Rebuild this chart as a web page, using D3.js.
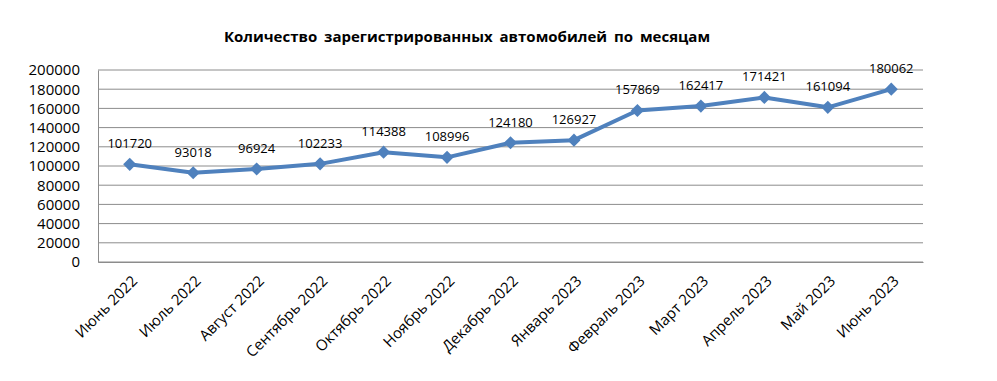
<!DOCTYPE html>
<html>
<head>
<meta charset="utf-8">
<script src="https://cdn.jsdelivr.net/npm/d3@7"></script>
<style>
  body { margin: 0; background: #fff; }
  text { font-family: "Open Sans", "Noto Sans", sans-serif; fill: #000; }
</style>
</head>
<body>
<svg width="997" height="381"></svg>
<script>
// data
var months = ["Июнь 2022", "Июль 2022", "Август 2022", "Сентябрь 2022", "Октябрь 2022",
    "Ноябрь 2022", "Декабрь 2022", "Январь 2023", "Февраль 2023", "Март 2023",
    "Апрель 2023", "Май 2023", "Июнь 2023"];
var cars = [101720, 93018, 96924, 102233, 114388, 108996, 124180, 126927,
    157869, 162417, 171421, 161094, 180062];
var yTicks = [0, 20000, 40000, 60000, 80000, 100000, 120000, 140000, 160000, 180000, 200000];

var svg = d3.select("svg"),
    margin = {top: 70, right: 74, bottom: 119, left: 98},
    width = +svg.attr("width") - margin.left - margin.right,
    height = +svg.attr("height") - margin.top - margin.bottom;

// title
svg.append("text")
    .attr("x", 467)
    .attr("y", 42)
    .attr("text-anchor", "middle")
    .style("font-weight", "bold")
    .style("font-size", "15px")
    .style("word-spacing", "3px")
    .text("Количество зарегистрированных автомобилей по месяцам");

var g = svg.append("g")
    .attr("transform", "translate(" + margin.left + "," + margin.top + ")");

// scales
var x = d3.scalePoint()
    .domain(months)
    .range([0, width])
    .padding(0.5);

var y = d3.scaleLinear()
    .domain([0, 200000])
    .range([height, 0]);

// grid lines
g.selectAll(".grid")
    .data(yTicks)
    .enter().append("line")
    .attr("x1", 0)
    .attr("x2", width)
    .attr("y1", function (d) { return y(d); })
    .attr("y2", function (d) { return y(d); })
    .attr("stroke", "#8c8c8c")
    .attr("stroke-width", 1);

// y axis
var yAxis = g.append("g")
    .call(d3.axisLeft(y).tickValues(yTicks).tickFormat(d3.format("d"))
        .tickSize(0).tickPadding(18));
yAxis.select(".domain").attr("stroke", "#8c8c8c");
yAxis.selectAll("text")
    .style("font-size", "15px")
    .style("font-family", "'Open Sans', sans-serif");

// x axis
var xAxis = g.append("g")
    .attr("transform", "translate(0," + height + ")")
    .call(d3.axisBottom(x).tickSize(0).tickPadding(0));
xAxis.select(".domain").attr("stroke", "#8c8c8c");
xAxis.selectAll("text")
    .style("font-size", "15px")
    .style("font-family", "'Open Sans', sans-serif")
    .attr("text-anchor", "end")
    .attr("dy", 0)
    .attr("transform", "translate(8,20) rotate(-45)");

// line
var line = d3.line()
    .x(function (d, i) { return x(months[i]); })
    .y(function (d) { return y(d); });

g.append("path")
    .datum(cars)
    .attr("fill", "none")
    .attr("stroke", "#4f81bd")
    .attr("stroke-width", 4)
    .attr("stroke-linejoin", "round")
    .attr("d", line);

// diamond markers
g.selectAll(".marker")
    .data(cars)
    .enter().append("path")
    .attr("d", d3.symbol().type(d3.symbolDiamond2).size(110))
    .attr("transform", function (d, i) {
        return "translate(" + x(months[i]) + "," + y(d) + ")";
    })
    .attr("fill", "#4f81bd");

// value labels
g.selectAll(".label")
    .data(cars)
    .enter().append("text")
    .attr("x", function (d, i) { return x(months[i]); })
    .attr("y", function (d) { return y(d) - 16; })
    .attr("text-anchor", "middle")
    .style("font-size", "13px")
    .text(function (d) { return d; });
</script>
</body>
</html>
